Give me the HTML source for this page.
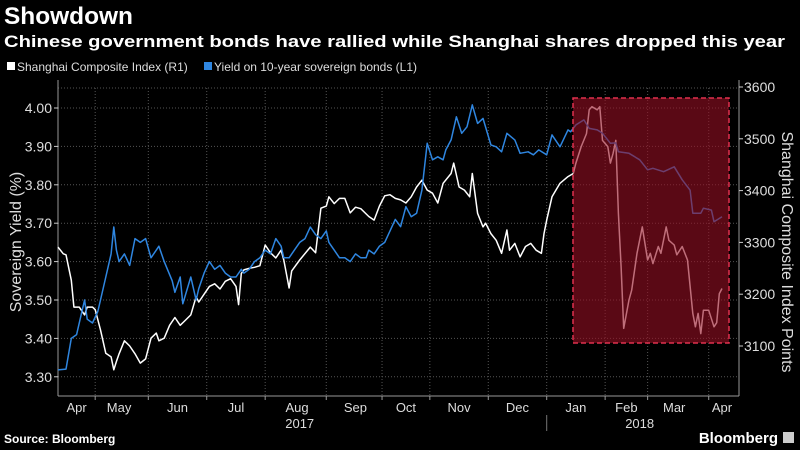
<!DOCTYPE html>
<html><head><meta charset="utf-8"><style>
html,body{margin:0;padding:0;background:#000;}
svg{display:block;font-family:"Liberation Sans",sans-serif;}
</style></head><body>
<svg id="chart" width="800" height="450" viewBox="0 0 800 450">
<rect width="800" height="450" fill="#000"/>
<text x="4" y="24" fill="#fff" font-size="24" font-weight="bold" textLength="129" lengthAdjust="spacingAndGlyphs">Showdown</text>
<text x="4" y="47" fill="#fff" font-size="17" font-weight="bold" textLength="781" lengthAdjust="spacingAndGlyphs">Chinese government bonds have rallied while Shanghai shares dropped this year</text>
<g>
<rect x="7" y="62" width="8" height="8" fill="#fff"/>
<text x="17" y="71" fill="#ddd" font-size="12">Shanghai Composite Index (R1)</text>
<rect x="204" y="62" width="8" height="8" fill="#2f86e0"/>
<text x="214" y="71" fill="#ddd" font-size="12">Yield on 10-year sovereign bonds (L1)</text>
</g>
<g id="grid"></g>
<g id="axes"></g>
<g id="series"></g>
<rect x="573" y="98" width="156" height="245" fill="rgba(150,15,35,0.6)" stroke="#e0304e" stroke-width="1.5" stroke-dasharray="5,3"/>
<text transform="translate(21,242) rotate(-90)" text-anchor="middle" fill="#ddd" font-size="16">Sovereign Yield (%)</text>
<text transform="translate(782,252) rotate(90)" text-anchor="middle" fill="#ddd" font-size="16">Shanghai Composite Index Points</text>
<text x="4" y="443" fill="#fff" font-size="12" font-weight="bold">Source: Bloomberg</text>
<text x="778" y="443" text-anchor="end" fill="#fff" font-size="15" font-weight="bold">Bloomberg</text>
<rect x="783" y="432" width="11" height="11" fill="#ccc"/>
</svg>
<script>
const leftTicks = [3.30, 3.40, 3.50, 3.60, 3.70, 3.80, 3.90, 4.00];
const leftTickLabels = ["3.30","3.40","3.50","3.60","3.70","3.80","3.90","4.00"];
const rightTicks = [3100, 3200, 3300, 3400, 3500, 3600];
const rightTickLabels = ["3100","3200","3300","3400","3500","3600"];
const monthLabels = ["Apr","May","Jun","Jul","Aug","Sep","Oct","Nov","Dec","Jan","Feb","Mar","Apr"];
const monthCenterDays = [7,23,45,67,90,112,131,151,173,195,214,232,250];
const monthStartDays = [14,34,56,78,101,122,140,162,184,206,222,245];
const yearLabels = ["2017","2018"];
const yearCenterDays = [91,219];
const yearBreakDay = 184;
const blueDays = [0,3,5,7,9,10,11,13,15,16,18,20,21,22,23,25,27,29,31,33,35,37,38,40,43,44,46,47,50,52,53,55,57,59,61,63,65,67,69,70,72,74,76,78,80,82,84,85,87,89,91,93,95,97,99,101,102,104,106,108,110,112,114,116,117,119,121,123,125,127,129,131,133,135,137,139,141,143,145,146,148,150,152,154,156,158,160,163,165,167,169,172,174,177,179,181,184,186,189,192,193,195,198,200,203,205,208,210,211,215,219,222,224,228,232,235,238,239,242,243,246,247,250];
const blueVals = [3.318,3.32,3.40,3.41,3.47,3.50,3.45,3.44,3.47,3.50,3.56,3.62,3.69,3.63,3.60,3.62,3.59,3.66,3.65,3.66,3.61,3.63,3.64,3.60,3.55,3.52,3.56,3.49,3.56,3.50,3.53,3.57,3.60,3.58,3.59,3.57,3.56,3.56,3.58,3.57,3.58,3.60,3.61,3.63,3.62,3.66,3.64,3.61,3.61,3.63,3.65,3.66,3.69,3.67,3.66,3.68,3.65,3.63,3.61,3.61,3.60,3.62,3.61,3.61,3.63,3.62,3.64,3.65,3.68,3.71,3.691,3.743,3.717,3.726,3.786,3.908,3.865,3.873,3.865,3.891,3.917,3.977,3.934,3.951,4.008,3.960,3.973,3.904,3.899,3.886,3.934,3.917,3.882,3.886,3.878,3.891,3.878,3.930,3.899,3.943,3.938,3.956,3.969,3.947,3.943,3.934,3.908,3.909,3.886,3.882,3.865,3.839,3.843,3.834,3.847,3.813,3.786,3.726,3.726,3.739,3.734,3.704,3.717];
const shDays = [0,2,3,5,6,8,10,11,13,14,16,18,20,21,22,23,25,27,29,31,33,35,37,38,40,42,44,46,48,50,52,53,55,57,59,61,63,65,67,68,69,70,72,74,76,78,80,82,84,85,87,88,91,95,97,99,101,102,104,106,108,110,112,114,116,117,119,121,123,125,127,129,131,133,135,137,139,141,143,145,148,149,151,153,155,156,158,160,161,163,165,167,169,170,172,174,176,178,180,182,183,184,186,189,192,194,195,197,199,200,201,203,204,205,207,208,209,210,211,212,213,215,216,218,220,222,223,224,226,227,229,230,232,233,235,237,239,240,241,242,243,245,247,248,249,250];
const shVals = [3291,3278,3276,3227,3175,3175,3160,3175,3175,3170,3131,3086,3079,3054,3070,3085,3110,3100,3085,3067,3075,3115,3125,3110,3115,3140,3155,3140,3150,3160,3195,3185,3200,3215,3220,3210,3225,3230,3215,3180,3240,3247,3250,3252,3255,3295,3280,3270,3285,3266,3212,3245,3266,3291,3280,3366,3370,3388,3375,3385,3385,3357,3368,3365,3355,3350,3343,3370,3390,3392,3385,3382,3376,3388,3407,3420,3401,3395,3376,3414,3433,3453,3407,3401,3388,3433,3356,3330,3337,3317,3304,3279,3324,3285,3298,3272,3292,3298,3285,3279,3317,3343,3388,3414,3427,3433,3453,3485,3510,3556,3562,3556,3562,3497,3485,3453,3472,3497,3356,3253,3134,3189,3208,3279,3330,3266,3279,3259,3292,3279,3330,3304,3295,3276,3292,3266,3163,3137,3163,3124,3169,3169,3137,3145,3201,3211];

const NS = "http://www.w3.org/2000/svg";
const X0 = 58, X1 = 739, Y0 = 88, Y1 = 396;
const DX0 = 58, DX1 = 722, DMAX = 250;
function xScale(d){ return DX0 + (d / DMAX) * (DX1 - DX0); }
function yLeft(v){ return 108 + (4.00 - v) * 384; }
function yRight(v){ return 87 + (3600 - v) * 0.518; }
function mk(tag, attrs, parent){
  const e = document.createElementNS(NS, tag);
  for (const k in attrs) e.setAttribute(k, attrs[k]);
  parent.appendChild(e);
  return e;
}
const grid = document.getElementById("grid");
const axes = document.getElementById("axes");
const series = document.getElementById("series");

leftTicks.forEach(function(v){
  const l = mk("line", {x1:X0, x2:X1, y1:yLeft(v), y2:yLeft(v), stroke:"#555", "stroke-width":1, "stroke-dasharray":"1,2"}, grid);
  
  
});
const topG = mk("line", {x1:X0, x2:X1, y1:Y0, y2:Y0, stroke:"#555", "stroke-dasharray":"1,2"}, grid);


monthStartDays.forEach(function(d){
  const l = mk("line", {x1:xScale(d), x2:xScale(d), y1:Y0, y2:Y1, stroke:"#555", "stroke-dasharray":"1,2"}, grid);
  
  
  const t = mk("line", {x1:xScale(d), x2:xScale(d), y1:Y1, y2:Y1+4, stroke:"#999"}, axes);
  
  
});
const la = mk("line", {x1:X0, x2:X0, y1:Y0-8, y2:Y1, stroke:"#999"}, axes);


const ra = mk("line", {x1:X1, x2:X1, y1:Y0-8, y2:Y1, stroke:"#999"}, axes);


const xa = mk("line", {x1:X0, x2:X1, y1:Y1, y2:Y1, stroke:"#999"}, axes);



leftTicks.forEach(function(v, i){
  const t = mk("line", {x1:X0-4, x2:X0, y1:yLeft(v), y2:yLeft(v), stroke:"#ccc"}, axes);
  
  
  const tx = mk("text", {x:X0-6, y:yLeft(v)+5, "text-anchor":"end", fill:"#ddd", "font-size":14}, axes);
  tx.textContent = leftTickLabels[i];
  
  
});
rightTicks.forEach(function(v, i){
  const t = mk("line", {x1:X1, x2:X1+4, y1:yRight(v), y2:yRight(v), stroke:"#ccc"}, axes);
  
  
  const tx = mk("text", {x:X1+5, y:yRight(v)+5, fill:"#ddd", "font-size":14}, axes);
  tx.textContent = rightTickLabels[i];
  
  
});
monthLabels.forEach(function(m, i){
  const tx = mk("text", {x:xScale(monthCenterDays[i]), y:412, "text-anchor":"middle", fill:"#ddd", "font-size":13}, axes);
  tx.textContent = m;
  
  
});
yearLabels.forEach(function(y, i){
  const tx = mk("text", {x:xScale(yearCenterDays[i]), y:428, "text-anchor":"middle", fill:"#ddd", "font-size":13}, axes);
  tx.textContent = y;
  
  
});
const yb = mk("line", {x1:xScale(yearBreakDay), x2:xScale(yearBreakDay), y1:415, y2:431, stroke:"#777"}, axes);



function path(days, vals, ys){
  return days.map(function(d, i){ return (i ? "L" : "M") + xScale(d).toFixed(1) + "," + ys(vals[i]).toFixed(1); }).join(" ");
}
const shLine = mk("path", {d:path(shDays, shVals, yRight), fill:"none", stroke:"#fff", "stroke-width":1.5, "stroke-linejoin":"round"}, series);


const blLine = mk("path", {d:path(blueDays, blueVals, yLeft), fill:"none", stroke:"#2f86e0", "stroke-width":1.5, "stroke-linejoin":"round"}, series);


</script>
</body></html>
